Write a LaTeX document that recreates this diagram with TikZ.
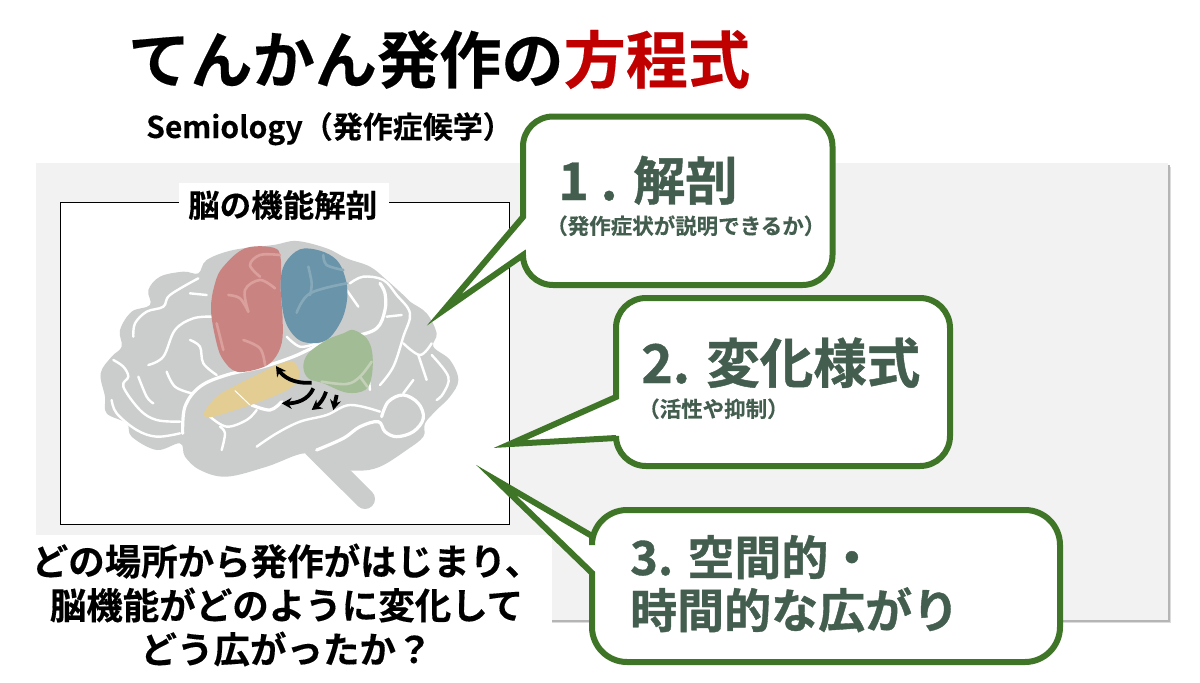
\documentclass[tikz,border=0pt]{standalone}
\usepackage{fontspec}
\setmainfont{Noto Sans CJK JP}[BoldFont={Noto Sans CJK JP Bold}]
\newfontfamily\heavy{Noto Sans CJK JP Bold}[FakeBold=0.8]
\newfontfamily\semi{Noto Sans CJK JP Bold}[FakeBold=0.3]
\usetikzlibrary{arrows.meta}
\definecolor{panelgray}{HTML}{F2F2F2}
\definecolor{shadowgray}{HTML}{B5B5B5}
\definecolor{shadowsoft}{HTML}{DCDCDC}
\definecolor{bubgreen}{HTML}{3F7527}
\definecolor{bubtext}{HTML}{435E4E}
\definecolor{titlered}{HTML}{C00000}
\definecolor{braingray}{HTML}{CBCDCC}
\definecolor{lobered}{HTML}{C98482}
\definecolor{loberedl}{HTML}{DBA09C}
\definecolor{lobeblue}{HTML}{6A94A9}
\definecolor{lobebluel}{HTML}{86A9BA}
\definecolor{lobegreen}{HTML}{A2BC96}
\definecolor{lobegreenl}{HTML}{C4D0B8}
\definecolor{lobeyellow}{HTML}{E3CD93}
\tikzset{
  txt/.style={anchor=base west,inner sep=0pt,font=\semi},
  bubtxt/.style={anchor=base west,inner sep=0pt,font=\heavy,text=bubtext},
  subtxt/.style={anchor=base west,inner sep=0pt,font=\semi,text=bubtext},
  bub/.style={draw=bubgreen,fill=white,line width=6pt,line join=miter,miter limit=30},
  sulcus/.style={draw=white,line width=2.4pt,line cap=round,line join=round},
  sulcusb/.style={draw=white,line width=3.2pt,line cap=round,line join=round},
  fold/.style={line width=2.6pt,line cap=round,line join=round},
  flow/.style={draw=black,line width=3.8pt,-{Stealth[length=10pt,width=11pt]}},
}
\newcommand{\fs}[1]{\fontsize{#1}{#1}\selectfont}
\newcommand{\sul}[1]{\draw[sulcus] plot[smooth,tension=.6] coordinates {#1};}
\newcommand{\sulb}[1]{\draw[sulcusb] plot[smooth,tension=.6] coordinates {#1};}
\newcommand{\blob}[2]{\fill[#1] plot[smooth cycle,tension=.6] coordinates {#2};}
\newcommand{\fol}[2]{\draw[fold,#1] plot[smooth,tension=.6] coordinates {#2};}
% left, top, right, bottom, radius, tail top y, tail bottom y, tip
\newcommand{\bubble}[8]{%
  \pgfmathsetmacro{\rr}{#5}\pgfmathsetmacro{\kk}{#5*0.4477}%
  \draw[bub] ({#1+\rr},#2) -- ({#3-\rr},#2)
    .. controls ({#3-\kk},#2) and (#3,{#2+\kk}) .. (#3,{#2+\rr})
    -- (#3,{#4-\rr})
    .. controls (#3,{#4-\kk}) and ({#3-\kk},#4) .. ({#3-\rr},#4)
    -- ({#1+\rr},#4)
    .. controls ({#1+\kk},#4) and (#1,{#4-\kk}) .. (#1,{#4-\rr})
    -- (#1,#7) -- (#8) -- (#1,#6) -- (#1,{#2+\rr})
    .. controls (#1,{#2+\kk}) and ({#1+\kk},#2) .. ({#1+\rr},#2) -- cycle;}
\begin{document}
\begin{tikzpicture}[x=1pt,y=-1pt]
\useasboundingbox (0,0) rectangle (1200,683);
\fill[white] (0,0) rectangle (1200,683);
% panel
\fill[shadowsoft] (40,167) rectangle (1171,623);
\fill[shadowgray] (38,165) rectangle (1169.5,621.5);
\fill[panelgray] (36,163) rectangle (1168,620);
\fill[white] (0,535) rectangle (552,683);
% frame
\draw[black,line width=1pt,fill=white] (60,202) rectangle (509,524);
\fill[white] (179,183) rectangle (389,222);
% brain
\begin{scope}[shift={(60,180)},x=.33333pt,y=-.33333pt]
\blob{braingray}{(360,790)(290,810)(215,770)(200,730)(140,700)(135,650)(122,580)(155,530)(185,500)(180,450)(215,395)(270,375)(265,330)(300,290)(370,275)(415,280)(440,240)(520,210)(640,195)(710,183)(800,205)(860,235)(930,260)(980,300)(1030,345)(1050,365)(1100,400)(1130,460)(1120,500)(1170,540)(1195,600)(1170,650)(1130,690)(1095,730)(1090,770)(1040,810)(960,860)(890,872)(780,860)(735,820)(620,860)(500,890)(420,870)(375,830)}
\draw[braingray,line width=20pt,line cap=round] (760,803) -- (915,957);
\sulb{(368,760)(375,680)(420,620)(500,585)(610,560)(700,530)(790,490)(880,470)(950,445)(975,390)(975,340)(960,310)}
\sul{(590,800)(650,760)(720,725)(800,705)(870,675)(960,695)}
\sulb{(965,710)(985,665)(1030,645)(1075,670)(1090,715)(1060,755)(1010,770)(975,755)(955,725)(900,740)(850,775)(770,810)}
\sul{(450,710)(500,740)(560,720)(590,690)}
\sulb{(575,675)(630,690)(665,665)}
\sul{(485,810)(495,760)(480,740)}
\sul{(220,470)(225,430)(260,395)(310,380)(330,345)(415,295)}
\sul{(265,555)(310,530)(345,450)(400,415)(460,410)}
\sul{(390,480)(420,500)(430,550)(470,585)}
\sul{(320,575)(345,620)(395,640)}
\sul{(160,540)(190,560)(205,590)(190,620)(240,690)(290,720)(360,725)}
\sul{(155,660)(170,700)(230,750)(290,770)(360,760)}
\sul{(235,590)(260,650)(280,670)}
\sul{(390,340)(440,345)}
\sul{(870,310)(910,290)(970,300)(1010,345)(1050,400)(1030,470)(1000,560)(960,615)}
\sul{(860,330)(895,380)}
\sul{(980,410)(1025,405)}
\sul{(1030,490)(1080,525)(1115,490)}
\sul{(1075,525)(1100,600)}
\sul{(1115,525)(1165,590)(1150,640)(1130,660)}
\sul{(1030,640)(1060,600)}
\sul{(925,580)(930,630)}
\sul{(680,470)(720,500)(770,490)}
% lobes
\blob{lobered}{(555,205)(640,203)(662,235)(662,330)(668,420)(665,490)(640,540)(600,565)(530,575)(490,540)(470,490)(453,390)(465,310)(490,260)}
\fol{loberedl}{(505,345)(540,355)(565,395)}
\fol{loberedl}{(565,395)(555,330)(600,300)(645,325)}
\fol{loberedl}{(600,290)(570,255)(600,225)(660,225)}
\fol{loberedl}{(470,430)(490,510)}
\fol{loberedl}{(550,480)(600,505)(615,555)}
\blob{lobeblue}{(720,208)(780,212)(830,240)(855,290)(862,350)(845,420)(800,480)(740,488)(700,465)(672,410)(662,310)(675,250)}
\fol{lobebluel}{(710,398)(750,340)(860,310)}
\fol{lobebluel}{(745,260)(755,310)(750,345)}
\fol{lobebluel}{(790,225)(800,255)(850,270)}
\blob{lobeyellow}{(432,700)(470,650)(530,615)(600,580)(650,555)(700,545)(718,585)(690,625)(600,665)(510,695)(450,712)}
\fol{white,line width=1pt}{(525,632)(570,675)}
\blob{lobegreen}{(880,450)(920,475)(937,520)(935,590)(915,630)(860,638)(790,610)(745,595)(730,560)(745,520)(800,480)(850,460)}
\fol{lobegreenl}{(785,605)(860,612)(900,590)(935,545)}
\fol{lobegreenl}{(900,590)(922,620)}
% arrows
\draw[flow] (755,608) .. controls (700,612) and (670,590) .. (648,558);
\draw[flow] (760,625) .. controls (745,660) and (710,670) .. (665,670);
\draw[flow] (798,635) .. controls (790,660) and (775,675) .. (755,690);
\draw[flow] (830,645) -- (820,690);
\end{scope}
% bubbles
\coordinate (tipa) at (444,310);
\coordinate (tipb) at (510,444);
\coordinate (tipc) at (496,480);
\bubble{523}{116.5}{832.5}{285}{30}{217}{255}{tipa}
\bubble{616}{298}{950}{466}{30}{397}{438}{tipb}
\bubble{592}{510}{1060}{662}{35}{536}{573}{tipc}
% text
\node[txt] (title) at (128,83) {\fs{62.2}てんかん発作の\textcolor{titlered}{方程式}};
\node[txt] (semi) at (146,138) {\fs{30}Semiology（発作症候学）};
\node[txt] (anat) at (188,217) {\fs{31.5}脳の機能解剖};
\node[bubtxt] (ba) at (558,200) {\fs{52}1 . 解剖};
\node[subtxt] (bas) at (546,234) {\fs{21.5}（発作症状が説明できるか）};
\node[bubtxt] (bb) at (641,383) {\fs{53.5}2. 変化様式};
\node[subtxt] (bbs) at (638,417) {\fs{21.5}（活性や抑制）};
\node[bubtxt] (bc) at (630,575) {\fs{47}3. 空間的・};
\node[bubtxt] (bcb) at (630,628) {\fs{47}時間的な広がり};
\node[anchor=center,inner sep=0pt,font=\semi\fontsize{36.5}{44}\selectfont,align=center] (q) at (286.5,605) {どの場所から発作がはじまり、\\脳機能がどのように変化して\\どう広がったか？};
\end{tikzpicture}
\end{document}
